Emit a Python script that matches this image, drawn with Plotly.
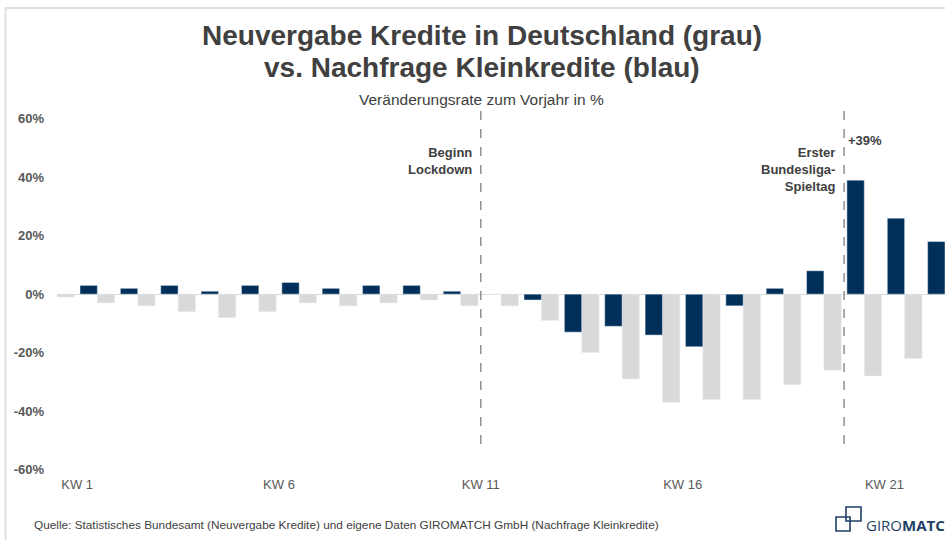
import plotly.graph_objects as go

weeks = list(range(1, 23))
neuvergabe_grau = [-1, -3, -4, -6, -8, -6, -3, -4, -3, -2, -4, -4, -9, -20, -29, -37, -36, -36, -31, -26, -28, -22]
nachfrage_blau = [3, 2, 3, 1, 3, 4, 2, 3, 3, 1, 0, -2, -13, -11, -14, -18, -4, 2, 8, 39, 26, 18]
x_tick_vals = [1, 6, 11, 16, 21]
x_tick_text = ["KW 1", "KW 6", "KW 11", "KW 16", "KW 21"]
y_tick_vals = [-60, -40, -20, 0, 20, 40, 60]
y_tick_text = ["-60%", "-40%", "-20%", "0%", "20%", "40%", "60%"]
events = [(11, "Beginn<br>Lockdown"), (20, "Erster<br>Bundesliga-<br>Spieltag")]
peak_label = "+39%"

W, H = 945, 540
L, R, T, B = 57, 0, 110, 69
PW, PH = W - L - R, H - T - B

def px_x(px):
    return (px - L) / PW

def px_y(py):
    return (H - B - py) / PH

BLUE = "#00305a"
GRAY = "#d9d9d9"
TXT = "#404040"
FONT = "Liberation Sans, Arial, sans-serif"

fig = go.Figure()
fig.add_trace(go.Bar(x=weeks, y=neuvergabe_grau, marker_color=GRAY, offset=-0.5, width=0.43,
                     name="Neuvergabe Kredite", hoverinfo="y"))
fig.add_trace(go.Bar(x=weeks, y=nachfrage_blau, marker_color=BLUE, offset=0.07, width=0.43,
                     name="Nachfrage Kleinkredite", hoverinfo="y"))

shapes = []
for wk, _ in events:
    shapes.append(dict(type="line", xref="x", yref="y", x0=wk, x1=wk, y0=-51.3, y1=63,
                       line=dict(color="#7f7f7f", width=1.3, dash="dash")))
# frame lines
shapes.append(dict(type="line", xref="paper", yref="paper", x0=px_x(5), x1=px_x(945), y0=px_y(8), y1=px_y(8),
                   line=dict(color="#e0e0e0", width=2)))
shapes.append(dict(type="line", xref="paper", yref="paper", x0=px_x(5.5), x1=px_x(5.5), y0=px_y(8), y1=px_y(540),
                   line=dict(color="#e0e0e0", width=2)))
# logo icon
shapes.append(dict(type="rect", xref="paper", yref="paper", x0=px_x(836), x1=px_x(850), y0=px_y(531), y1=px_y(517),
                   line=dict(color="#1f3f66", width=1.6)))
shapes.append(dict(type="rect", xref="paper", yref="paper", x0=px_x(846), x1=px_x(861), y0=px_y(521), y1=px_y(507),
                   line=dict(color="#1f3f66", width=1.6)))

annotations = [
    dict(text="<b>Neuvergabe Kredite in Deutschland (grau)</b>", xref="paper", yref="paper",
         x=px_x(482), y=px_y(35), xanchor="center", yanchor="middle", showarrow=False,
         font=dict(size=28, color=TXT, family=FONT)),
    dict(text="<b>vs. Nachfrage Kleinkredite (blau)</b>", xref="paper", yref="paper",
         x=px_x(482), y=px_y(67), xanchor="center", yanchor="middle", showarrow=False,
         font=dict(size=28, color=TXT, family=FONT)),
    dict(text="Veränderungsrate zum Vorjahr in %", xref="paper", yref="paper",
         x=px_x(481), y=px_y(99), xanchor="center", yanchor="middle", showarrow=False,
         font=dict(size=15.5, color=TXT, family=FONT)),
    dict(text="Quelle: Statistisches Bundesamt (Neuvergabe Kredite) und eigene Daten GIROMATCH GmbH (Nachfrage Kleinkredite)",
         xref="paper", yref="paper", x=px_x(32), y=px_y(525), xanchor="left", yanchor="middle", showarrow=False,
         font=dict(size=11.8, color=TXT, family=FONT)),
    dict(text="GIRO<b>MATCH</b>", xref="paper", yref="paper", x=px_x(864), y=px_y(525), xanchor="left",
         yanchor="middle", showarrow=False, font=dict(size=15, color="#1f3f66", family="Open Sans, sans-serif")),
    dict(text="<b>" + peak_label + "</b>", xref="x", yref="paper", x=20, xshift=2, y=px_y(140), xanchor="left",
         yanchor="middle", showarrow=False, font=dict(size=13, color=TXT, family=FONT)),
]
for wk, label in events:
    annotations.append(dict(text="<b>" + label + "</b>", xref="x", yref="paper", x=wk, xshift=-7,
                            y=px_y(143), xanchor="right", yanchor="top", align="right", showarrow=False,
                            font=dict(size=13, color=TXT, family=FONT)))

fig.update_layout(
    width=W, height=H,
    margin=dict(l=L, r=R, t=T, b=B, pad=0),
    paper_bgcolor="white", plot_bgcolor="white",
    showlegend=False, barmode="overlay",
    font=dict(family=FONT, color="#595959"),
    shapes=shapes, annotations=annotations,
    xaxis=dict(range=[0.5, 22.5], tickmode="array", tickvals=x_tick_vals, ticktext=x_tick_text,
               showgrid=False, zeroline=False, showline=False, ticks="", ticklabelstandoff=4,
               tickfont=dict(size=13, color="#595959", family=FONT)),
    yaxis=dict(range=[-60.5, 63], tickmode="array", tickvals=y_tick_vals,
               ticktext=["<b>" + t + "</b>" for t in y_tick_text],
               showgrid=False, zeroline=True, zerolinecolor="#d9d9d9", zerolinewidth=1,
               showline=False, ticks="", ticklabelstandoff=12,
               tickfont=dict(size=13, color="#595959", family=FONT)),
)

fig.write_html("out.html", config={"displayModeBar": False},
               post_script="document.body.style.margin='0px';document.body.style.overflow='hidden';")
